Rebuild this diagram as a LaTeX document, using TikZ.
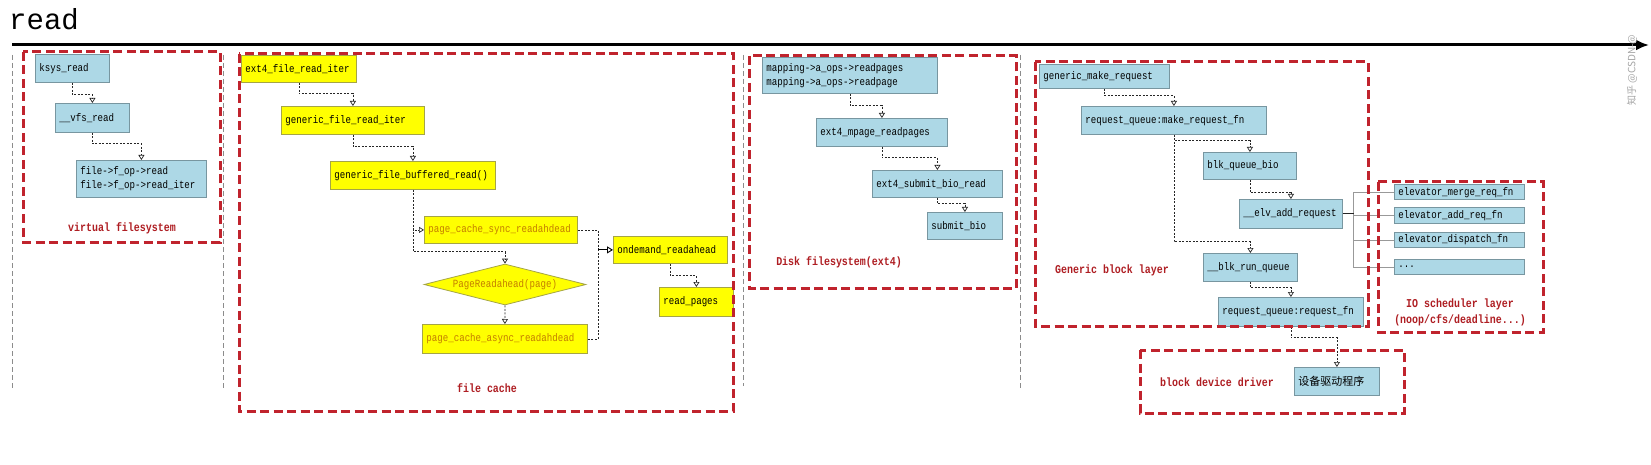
\documentclass[tikz,border=0pt]{standalone}
\usepackage{fontspec}
\setmonofont{Liberation Mono}
\newfontfamily\boxmono[FakeStretch=0.83]{Liberation Mono}
\newfontfamily\cjk{Noto Sans CJK SC}
\usetikzlibrary{arrows.meta,shapes.geometric,calc}
\definecolor{boxblue}{RGB}{173,216,230}
\definecolor{boxblueline}{RGB}{120,150,160}
\definecolor{boxyellow}{RGB}{255,255,0}
\definecolor{boxyellowline}{RGB}{165,165,70}
\definecolor{layerred}{RGB}{192,35,45}
\definecolor{labelred}{RGB}{175,30,35}
\definecolor{orangetext}{RGB}{195,125,0}
\newcommand\boxfont{\boxmono\fontsize{11}{14}\selectfont}
\newcommand\labfont{\boxmono\bfseries\fontsize{12}{16}\selectfont}
\begin{document}
\begin{tikzpicture}[x=1pt,y=-1pt,
  wh/.code 2 args={\pgfmathsetmacro\tw{#1-8}\pgfkeysalso{/tikz/minimum width=#1pt,/tikz/minimum height=#2pt,/tikz/text width=\tw pt}},
  fnbox/.style={draw=boxblueline, fill=boxblue, line width=0.8pt, anchor=north west, inner xsep=4pt, inner ysep=0pt, align=left, font=\boxfont},
  ylbox/.style={fnbox, draw=boxyellowline, fill=boxyellow},
  orangetxt/.style={text=orangetext},
  layer/.style={draw=layerred, line width=3pt, dash pattern=on 9pt off 4.5pt},
  lab/.style={text=labelred, font=\labfont, inner sep=0pt},
  sep/.style={draw=black!45, line width=0.7pt, dash pattern=on 5pt off 3pt},
  connline/.style={draw=black!85, line width=0.7pt, dash pattern=on 2pt off 1.5pt},
  conn/.style={connline, -{Triangle[open,width=6pt,length=5pt]}},
  solidarr/.style={draw=black, line width=0.9pt, -{Triangle[open,width=7pt,length=6pt]}},
  busline/.style={draw=black!40, line width=0.8pt},
  axis/.style={draw=black, line width=3pt, -{Latex[length=13pt,width=11pt]}}
]
\fill[white] (0,0) rectangle (1651,465);
\useasboundingbox (0,0) rectangle (1651,465);

% title and axis
\node[anchor=base west, inner sep=0pt, font=\ttfamily\fontsize{29}{30}\selectfont] (title) at (9,30) {read};
\coordinate (axL) at (12,45);
\coordinate (axR) at (1649,45);
\draw[axis] (axL) -- (axR);
\node[rotate=90, text=black!35, inner sep=0pt, font=\cjk\fontsize{10}{12}\selectfont] (wm) at (1632,70) {知乎 @CSDN-@};

% separators
\draw[sep] (12,55) -- (12,388);
\draw[sep] (223,55) -- (223,388);
\draw[sep] (743,55) -- (743,386);
\draw[sep] (1020,55) -- (1020,388);

% virtual filesystem
\node[fnbox, wh={74}{28}] (ksys) at (35,54) {ksys\_read};
\node[fnbox, wh={74}{29}] (vfs) at (55,103) {\_\_vfs\_read};
\node[fnbox, wh={130}{37}] (fop) at (76,160) {file->f\_op->read\\file->f\_op->read\_iter};
\draw[conn] (ksys.south) -- ++(0,12) -| (vfs.north);
\draw[conn] (vfs.south) -- ++(0,11) -| (fop.north);

% file cache
\node[ylbox, wh={115}{27}] (efri) at (241,55) {ext4\_file\_read\_iter};
\node[ylbox, wh={143}{28}] (gfri) at (281,106) {generic\_file\_read\_iter};
\node[ylbox, wh={165}{28}] (gfbr) at (330,161) {generic\_file\_buffered\_read()};
\node[ylbox, orangetxt, wh={153}{27}] (sync) at (424,216) {page\_cache\_sync\_readahdead};
\node[ylbox, wh={114}{27}] (od) at (613,236) {ondemand\_readahead};
\node[ylbox, wh={74}{29}] (rp) at (659,287) {read\_pages};
\node[diamond, draw=boxyellowline, fill=boxyellow, line width=0.8pt, aspect=4, inner sep=0pt,
      minimum width=162pt, minimum height=41pt, font=\boxfont, orangetxt] (dia) at (505,284.5) {PageReadahead(page)};
\node[ylbox, orangetxt, wh={165}{29}] (async) at (422,324) {page\_cache\_async\_readahdead};
\draw[conn] (efri.south) -- ++(0,11) -| (gfri.north);
\draw[conn] (gfri.south) -- ++(0,12) -| (gfbr.north);
\draw[conn] (gfbr.south) |- (sync.west);
\draw[conn] (gfbr.south) -- ++(0,62) -| (dia.north);
\draw[conn] (dia.south) -- (async.north);
\coordinate (mrg) at ($(od.west)+(-15,0)$);
\draw[connline] (sync.east) -| (mrg);
\draw[connline] (async.east) -| (mrg);
\draw[solidarr] (mrg) -- (od.west);
\draw[conn] (od.south) -- ++(0,12) -| (rp.north);

% disk filesystem
\node[fnbox, wh={175}{36}] (map) at (762,57) {mapping->a\_ops->readpages\\mapping->a\_ops->readpage};
\node[fnbox, wh={131}{28}] (emp) at (816,118) {ext4\_mpage\_readpages};
\node[fnbox, wh={130}{27}] (esbr) at (872,170) {ext4\_submit\_bio\_read};
\node[fnbox, wh={75}{27}] (sb) at (927,212) {submit\_bio};
\draw[conn] (map.south) -- ++(0,12) -| (emp.north);
\draw[conn] (emp.south) -- ++(0,11) -| (esbr.north);
\draw[conn] (esbr.south) -- ++(0,6) -| (sb.north);

% generic block layer
\node[fnbox, wh={130}{24}] (gmr) at (1039,64) {generic\_make\_request};
\node[fnbox, wh={185}{28}] (mrf) at (1081,106) {request\_queue:make\_request\_fn};
\node[fnbox, wh={93}{27}] (bqb) at (1203,152) {blk\_queue\_bio};
\node[fnbox, wh={103}{29}] (elv) at (1239,199) {\_\_elv\_add\_request};
\node[fnbox, wh={94}{28}] (brq) at (1203,253) {\_\_blk\_run\_queue};
\node[fnbox, wh={145}{29}] (rqf) at (1218,297) {request\_queue:request\_fn};
\draw[conn] (gmr.south) -- ++(0,7) -| (mrf.north);
\draw[conn] (mrf.south) -- ++(0,6) -| (bqb.north);
\draw[conn] (mrf.south) -- ++(0,107) -| (brq.north);
\draw[conn] (bqb.south) -- ++(0,13) -| (elv.north);
\draw[conn] (brq.south) -- ++(0,6) -| (rqf.north);

% IO scheduler
\node[fnbox, wh={130}{15}] (em) at (1394,184.5) {elevator\_merge\_req\_fn};
\node[fnbox, wh={130}{15}] (ea) at (1394,207.5) {elevator\_add\_req\_fn};
\node[fnbox, wh={130}{15}] (ed) at (1394,232) {elevator\_dispatch\_fn};
\node[fnbox, wh={130}{15}] (edots) at (1394,259) {...};
\coordinate (bus) at ($(elv.east)+(11,0)$);
\draw[busline] (bus) |- (em.west);
\draw[busline] (bus) |- (ea.west);
\draw[busline] (bus) |- (ed.west);
\draw[busline] (bus) |- (edots.west);
\draw[draw=black!85, line width=1.2pt] (elv.east) -- (bus);

% block device driver
\node[fnbox, wh={85}{28}, font=\cjk\fontsize{11}{13}\selectfont] (drv) at (1294,367) {设备驱动程序};
\draw[conn] (rqf.south) -- ++(0,11) -| (drv.north);

% layer frames
\draw[layer] (23,52) rectangle (220,242);
\draw[layer] (239,54) rectangle (733,411);
\draw[layer] (749,56) rectangle (1016,288);
\draw[layer] (1035,62) rectangle (1368,326);
\draw[layer] (1378,182) rectangle (1543,332);
\draw[layer] (1140,350) rectangle (1404,413);

% layer labels
\node[lab] (vfsLab) at (122,228) {virtual filesystem};
\node[lab] (fcLab) at (487,388) {file cache};
\node[lab] (dfLab) at (839,262) {Disk filesystem(ext4)};
\node[lab] (gbLab) at (1112,270) {Generic block layer};
\node[lab, align=center] (ioLab) at (1460,312) {IO scheduler layer\\(noop/cfs/deadline...)};
\node[lab] (bdLab) at (1217,382) {block device driver};
\end{tikzpicture}
\end{document}
